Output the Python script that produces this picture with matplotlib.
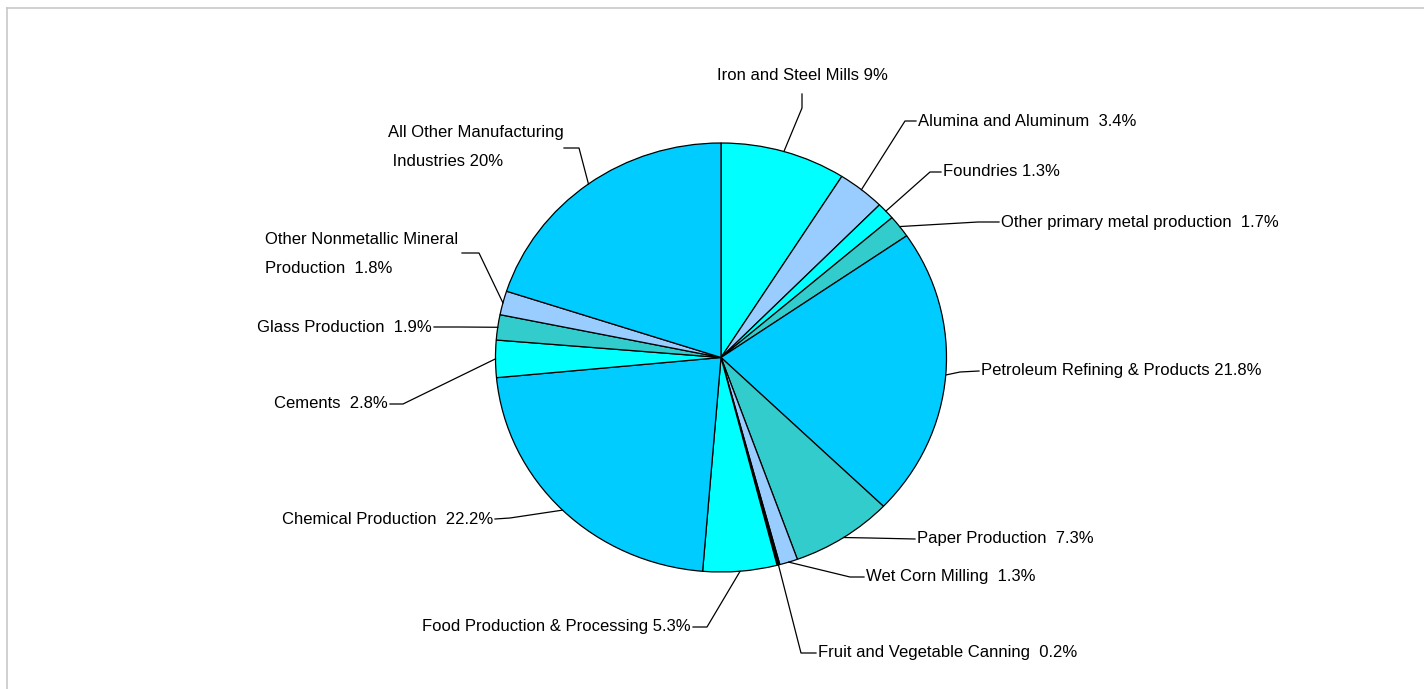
import numpy as np
import matplotlib
matplotlib.use("Agg")
import matplotlib.pyplot as plt
from matplotlib.lines import Line2D

# ---- data ----
categories = [
    "Iron and Steel Mills", "Alumina and Aluminum", "Foundries",
    "Other primary metal production", "Petroleum Refining & Products",
    "Paper Production", "Wet Corn Milling", "Fruit and Vegetable Canning",
    "Food Production & Processing", "Chemical Production", "Cements",
    "Glass Production", "Other Nonmetallic Mineral Production",
    "All Other Manufacturing Industries",
]
values = [9, 3.4, 1.3, 1.7, 21.8, 7.3, 1.3, 0.2, 5.3, 22.2, 2.8, 1.9, 1.8, 20]
label_texts = [
    "Iron and Steel Mills 9%", "Alumina and Aluminum  3.4%", "Foundries 1.3%",
    "Other primary metal production  1.7%", "Petroleum Refining & Products 21.8%",
    "Paper Production  7.3%", "Wet Corn Milling  1.3%",
    "Fruit and Vegetable Canning  0.2%", "Food Production & Processing 5.3%",
    "Chemical Production  22.2%", "Cements  2.8%", "Glass Production  1.9%",
    "Other Nonmetallic Mineral\nProduction  1.8%",
    "All Other Manufacturing\n Industries 20%",
]
colors = ["#00FFFF", "#99CCFF", "#00FFFF", "#33CCCC", "#00CCFF", "#33CCCC",
          "#99CCFF", "#000000", "#00FFFF", "#00CCFF", "#00FFFF", "#33CCCC",
          "#99CCFF", "#00CCFF"]

# ---- layout (pixel positions of label elbows / text anchors) ----
W, H = 1424, 689
CX, CY, RX, RY = 721, 357.5, 225.5, 214.5
# (elbow points list, text x, text y, ha)
layout = [
    ([(802, 108), (802, 94)], 802, 75, "center"),
    ([(905, 121), (916, 121)], 918, 121, "left"),
    ([(930, 172), (941, 172)], 943, 172, "left"),
    ([(978, 222), (999, 222)], 1001, 222, "left"),
    ([(960, 372), (979, 371)], 981, 371, "left"),
    ([(870, 538), (915, 539)], 917, 539, "left"),
    ([(850, 577), (864, 577)], 866, 577, "left"),
    ([(801, 653), (816, 653)], 818, 653, "left"),
    ([(707, 627), (693, 627)], 691, 627, "right"),
    ([(510, 518), (495, 519)], 493, 519, "right"),
    ([(403, 404), (390, 404)], 388, 404, "right"),
    ([(460, 327), (434, 327)], 432, 327, "right"),
    ([(479, 253), (462, 253)], 265, 254, "left"),
    ([(579, 148), (564, 148)], 388, 147, "left"),
]

plt.rcParams['font.family'] = ['Liberation Sans Narrow', 'DejaVu Sans Condensed', 'Liberation Sans', 'DejaVu Sans']

fig = plt.figure(figsize=(W / 100, H / 100), dpi=100)
fig.patch.set_facecolor("white")

# border
fig.add_artist(Line2D([6.5 / W, 6.5 / W], [0, 1 - 7.5 / H], transform=fig.transFigure,
                      color="#C8C8C8", lw=1.2))
fig.add_artist(Line2D([6.5 / W, 1], [1 - 7.5 / H, 1 - 7.5 / H], transform=fig.transFigure,
                      color="#C8C8C8", lw=1.2))

ax = fig.add_axes([(CX - RX) / W, 1 - (CY + RY) / H, 2 * RX / W, 2 * RY / H])
wedges, _ = ax.pie(values, colors=colors, startangle=90, counterclock=False,
                   wedgeprops=dict(edgecolor="black", linewidth=0.9))
ax.set_aspect("auto")
ax.set_xlim(-1, 1)
ax.set_ylim(-1, 1)
ax.axis("off")


def to_data(px, py):
    return (px - CX) / RX, (CY - py) / RY


for w, txt, (pts, tx, ty, ha) in zip(wedges, label_texts, layout):
    mid = np.deg2rad((w.theta1 + w.theta2) / 2)
    sx, sy = np.cos(mid), np.sin(mid)
    xs = [sx] + [to_data(*p)[0] for p in pts]
    ys = [sy] + [to_data(*p)[1] for p in pts]
    ax.plot(xs, ys, color="black", lw=0.9, clip_on=False)
    dx, dy = to_data(tx, ty)
    ax.text(dx, dy, txt, ha=ha, va="center", fontsize=12, color="#000000",
            linespacing=2.1, clip_on=False)

fig.savefig("out.png", dpi=100, facecolor="white")
